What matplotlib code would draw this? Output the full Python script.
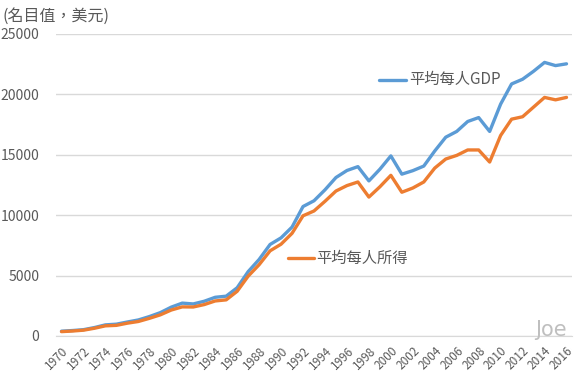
import matplotlib.pyplot as plt
import numpy as np

plt.rcParams['font.family'] = ['Noto Sans CJK TC', 'DejaVu Sans']

years = np.arange(1970, 2017)
gdp = [397, 451, 522, 697, 920, 978, 1158, 1327, 1606, 1933,
       2389, 2721, 2653, 2875, 3203, 3295, 3993, 5325, 6333, 7577,
       8124, 9016, 10717, 11194, 12099, 13119, 13700, 14020, 12840, 13804,
       14908, 13397, 13686, 14066, 15317, 16456, 16934, 17757, 18081, 16933,
       19197, 20866, 21256, 21916, 22648, 22384, 22530]
income = [360, 410, 480, 640, 840, 880, 1060, 1200, 1460, 1750,
          2150, 2410, 2400, 2600, 2900, 2990, 3700, 4950, 5900, 7050,
          7600, 8500, 9950, 10350, 11150, 12000, 12450, 12750, 11500, 12350,
          13300, 11900, 12250, 12750, 13900, 14650, 14950, 15400, 15400, 14400,
          16600, 17950, 18150, 18950, 19750, 19550, 19750]
tick_years = years[::2]

fig = plt.figure(figsize=(5.81, 3.79), dpi=100)
ax = fig.add_axes([0.0964, 0.1135, 0.8881, 0.7968])

grey = '#595959'
ax.plot(years, gdp, color='#5B9BD5', lw=2.4, solid_capstyle='round')
ax.plot(years, income, color='#ED7D31', lw=2.4, solid_capstyle='round')

ax.set_xlim(1969.5, 2016.5)
ax.set_ylim(0, 25000)
ax.set_yticks(np.arange(0, 25001, 5000))
ax.grid(axis='y', color='#D9D9D9', lw=1)
ax.set_axisbelow(True)
for s in ['top', 'right', 'left']:
    ax.spines[s].set_visible(False)
ax.spines['bottom'].set_color('#D9D9D9')
ax.tick_params(axis='both', length=0, colors=grey)
ax.tick_params(axis='y', pad=12, labelsize=10)
ax.set_xticks(tick_years)
ax.set_xticklabels([str(y) for y in tick_years], rotation=45, ha='right',
                   va='top', rotation_mode='anchor', fontsize=8.5)
ax.tick_params(axis='x', pad=6)

# inline legend labels
ax.plot([1998.9, 2001.4], [21200, 21200], color='#5B9BD5', lw=2.4, solid_capstyle='round')
ax.text(2001.7, 21200, '平均每人GDP', color=grey, fontsize=11, va='center')
ax.plot([1990.6, 1993.0], [6450, 6450], color='#ED7D31', lw=2.4, solid_capstyle='round')
ax.text(1993.2, 6450, '平均每人所得', color=grey, fontsize=11, va='center')

fig.text(0.005, 0.958, '(名目值，美元)', color=grey, fontsize=11.5, va='center')
fig.text(0.975, 0.13, 'Joe', color='#BFBFBF', fontsize=15, ha='right', va='center',
         family='DejaVu Sans')

fig.savefig('out.png', dpi=100)
